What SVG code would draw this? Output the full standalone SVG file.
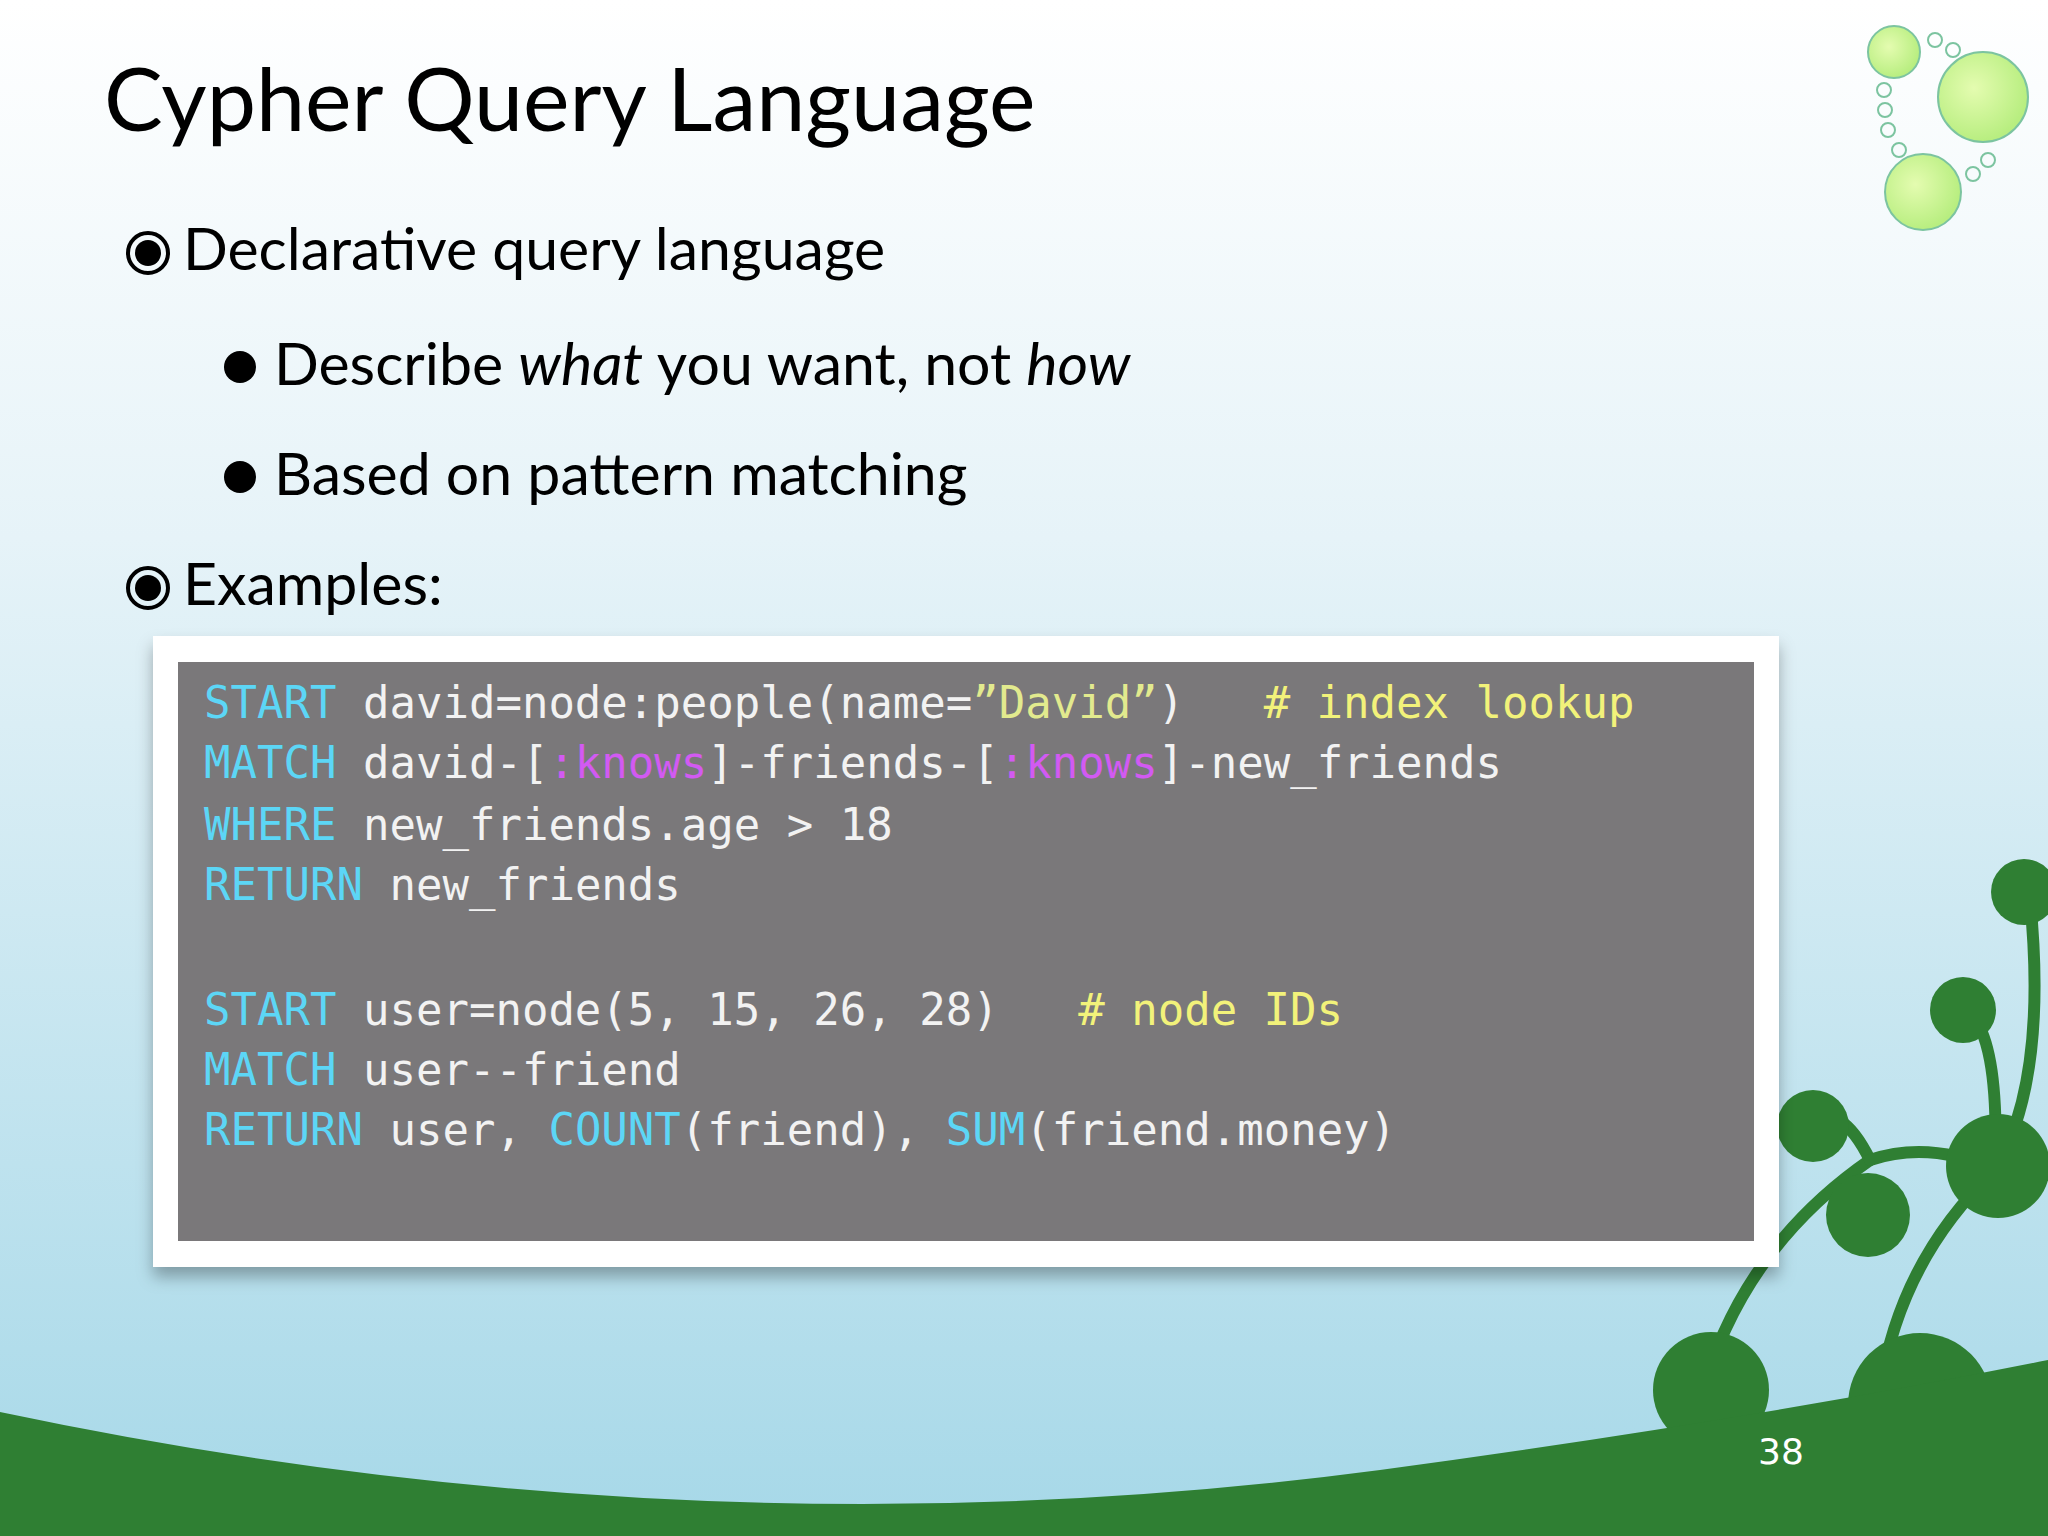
<svg xmlns="http://www.w3.org/2000/svg" width="2048" height="1536" viewBox="0 0 2048 1536">
<defs>
<linearGradient id="bg" x1="0" y1="0" x2="0" y2="1"><stop offset="0" stop-color="#ffffff"/><stop offset="0.35" stop-color="#e6f3f8"/><stop offset="1" stop-color="#a6d8e8"/></linearGradient>
<radialGradient id="bub" cx="0.4" cy="0.4" r="0.6"><stop offset="0" stop-color="#e4fcb0"/><stop offset="1" stop-color="#b8ee80"/></radialGradient>
<filter id="sh" x="-5%" y="-5%" width="110%" height="115%"><feDropShadow dx="0" dy="10" stdDeviation="8" flood-color="#000" flood-opacity="0.3"/></filter>
</defs>
<style>
.t{font-family:"Gill Sans","Lato","Open Sans",sans-serif;fill:#000}
.c{font-family:"DejaVu Sans Mono",monospace;font-size:44px;fill:#f2f2f2;white-space:pre}
.k{fill:#5cd6f6}.m{fill:#f2f27a}.p{fill:#d25af2}.s{fill:#e2ea8e}
.g{fill:#2f7f33}.st{stroke:#2f7f33;fill:none;stroke-width:12;stroke-linecap:round}
.b{fill:url(#bub);stroke:#7cc4a0;stroke-width:2}.h{fill:none;stroke:#7cc4a0;stroke-width:2}
</style>
<rect width="2048" height="1536" fill="url(#bg)"/>
<g id="decor">
<circle class="b" cx="1894" cy="52" r="26"/><circle class="b" cx="1983" cy="97" r="45"/><circle class="b" cx="1923" cy="192" r="38"/>
<circle class="h" cx="1935" cy="40" r="7"/><circle class="h" cx="1953" cy="50" r="7"/><circle class="h" cx="1884" cy="90" r="7"/><circle class="h" cx="1885" cy="110" r="7"/><circle class="h" cx="1888" cy="130" r="7"/><circle class="h" cx="1899" cy="150" r="7"/><circle class="h" cx="1988" cy="160" r="7"/><circle class="h" cx="1973" cy="174" r="7"/>
</g>
<g id="ground">
<path class="st" d="M1700 1400 Q1740 1250 1870 1160"/>
<path class="st" d="M1880 1390 Q1900 1260 1995 1170"/>
<path class="st" d="M1870 1160 Q1840 1100 1812 1125"/>
<path class="st" d="M1995 1170 Q2000 1030 1965 1010"/>
<path class="st" d="M1995 1170 Q2048 1080 2030 900"/>
<path class="st" d="M1870 1160 Q1930 1140 1995 1170"/>
<circle class="g" cx="2024" cy="892" r="33"/><circle class="g" cx="1963" cy="1010" r="33"/><circle class="g" cx="1813" cy="1126" r="36"/><circle class="g" cx="1868" cy="1215" r="42"/><circle class="g" cx="1998" cy="1166" r="52"/>
<circle class="g" cx="1711" cy="1390" r="58"/><circle class="g" cx="1920" cy="1405" r="72"/>
<path class="g" d="M0 1412 Q700 1560 1380 1470 Q1750 1420 2048 1360 L2048 1536 L0 1536 Z"/>
</g>
<text class="t" x="104" y="131" font-size="88">Cypher Query Language</text>
<g id="bullets">
<circle cx="148" cy="253" r="20" fill="none" stroke="#000" stroke-width="4"/><circle cx="148" cy="253" r="13"/>
<text class="t" x="183" y="270" font-size="59">Declarative query language</text>
<circle cx="240" cy="367" r="16"/>
<text class="t" x="274" y="385" font-size="59">Describe <tspan font-style="italic">what</tspan> you want, not <tspan font-style="italic">how</tspan></text>
<circle cx="240" cy="477" r="16"/>
<text class="t" x="274" y="495" font-size="59">Based on pattern matching</text>
<circle cx="148" cy="588" r="20" fill="none" stroke="#000" stroke-width="4"/><circle cx="148" cy="588" r="13"/>
<text class="t" x="183" y="605" font-size="59">Examples:</text>
</g>
<g id="code">
<rect x="153" y="636" width="1626" height="631" fill="#fff" filter="url(#sh)"/>
<rect x="178" y="662" width="1576" height="579" fill="#7a787a"/>
<text class="c" x="204" y="718"><tspan class="k">START</tspan> david=node:people(name=<tspan class="s">”David”</tspan>)   <tspan class="m"># index lookup</tspan></text>
<text class="c" x="204" y="778"><tspan class="k">MATCH</tspan> david-[<tspan class="p">:knows</tspan>]-friends-[<tspan class="p">:knows</tspan>]-new_friends</text>
<text class="c" x="204" y="840"><tspan class="k">WHERE</tspan> new_friends.age &gt; 18</text>
<text class="c" x="204" y="900"><tspan class="k">RETURN</tspan> new_friends</text>
<text class="c" x="204" y="1025"><tspan class="k">START</tspan> user=node(5, 15, 26, 28)   <tspan class="m"># node IDs</tspan></text>
<text class="c" x="204" y="1085"><tspan class="k">MATCH</tspan> user--friend</text>
<text class="c" x="204" y="1145"><tspan class="k">RETURN</tspan> user, <tspan class="k">COUNT</tspan>(friend), <tspan class="k">SUM</tspan>(friend.money)</text>
</g>
<text x="1758" y="1464" font-family="DejaVu Sans" font-size="36" fill="#fff">38</text>
</svg>
